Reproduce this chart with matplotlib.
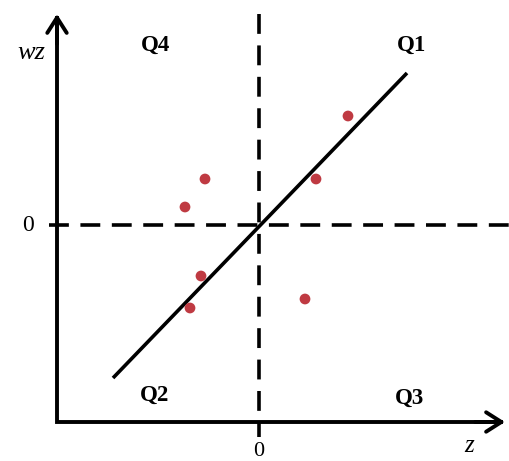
import matplotlib.pyplot as plt
from matplotlib.patches import FancyArrowPatch
import numpy as np

# scatter points (z, wz)
z_vals = [1.78, 1.14, -1.08, -1.48, -1.16, -1.38, 0.92]
wz_vals = [2.18, 0.92, 0.92, 0.36, -1.02, -1.66, -1.48]

# fitted line end points
line_z = [-2.92, 2.96]
line_wz = [-3.06, 3.04]

quad_labels = ['Q1', 'Q2', 'Q3', 'Q4']
quad_pos = [(3.06, 3.6), (-2.08, -3.4), (3.02, -3.46), (-2.08, 3.6)]

x0, x1 = -4.04, 4.92
y0, y1 = -3.94, 4.22

plt.rcParams['font.family'] = ['Liberation Serif', 'DejaVu Serif']

fig = plt.figure(figsize=(5.09, 4.61), dpi=100)
ax = fig.add_axes([0, 0, 1, 1])
ax.set_xlim(-5.18, 5.0)
ax.set_ylim(-4.72, 4.5)
ax.axis('off')

# dashed zero lines
ax.plot([0, 0], [y1, -4.24], color='black', lw=2.6, dashes=(5.5, 3.2))
ax.plot([-4.2, 5.0], [0, 0], color='black', lw=2.6, dashes=(5.5, 3.2))

# axes as one corner line, then arrow heads
ax.plot([x0, x0, x1 - 0.05], [y1 - 0.05, y0, y0], color='black', lw=2.8,
        solid_joinstyle='miter', solid_capstyle='butt')
for (xa, ya), (xb, yb) in [((x0, y1 - 0.6), (x0, y1)), ((x1 - 0.6, y0), (x1, y0))]:
    arr = FancyArrowPatch((xa, ya), (xb, yb),
            arrowstyle='->,head_length=0.55,head_width=0.35',
            mutation_scale=20, lw=2.8, color='black', shrinkA=0, shrinkB=0)
    ax.add_patch(arr)

ax.plot(line_z, line_wz, color='black', lw=2.6, solid_capstyle='butt')
ax.scatter(z_vals, wz_vals, s=60, color='#BF3A42', zorder=3, edgecolors='none')

for lab, (qx, qy) in zip(quad_labels, quad_pos):
    ax.text(qx, qy, lab, fontsize=16.5, fontweight='bold', ha='center', va='center')

ax.text(-4.62, 0, '0', fontsize=17, ha='center', va='center')
ax.text(0, -4.52, '0', fontsize=16, ha='center', va='center')
ax.text(-4.56, 3.44, 'wz', fontsize=19, style='italic', ha='center', va='center')
ax.text(4.2, -4.42, 'z', fontsize=18, style='italic', ha='center', va='center')

fig.savefig('out.png', dpi=100)
